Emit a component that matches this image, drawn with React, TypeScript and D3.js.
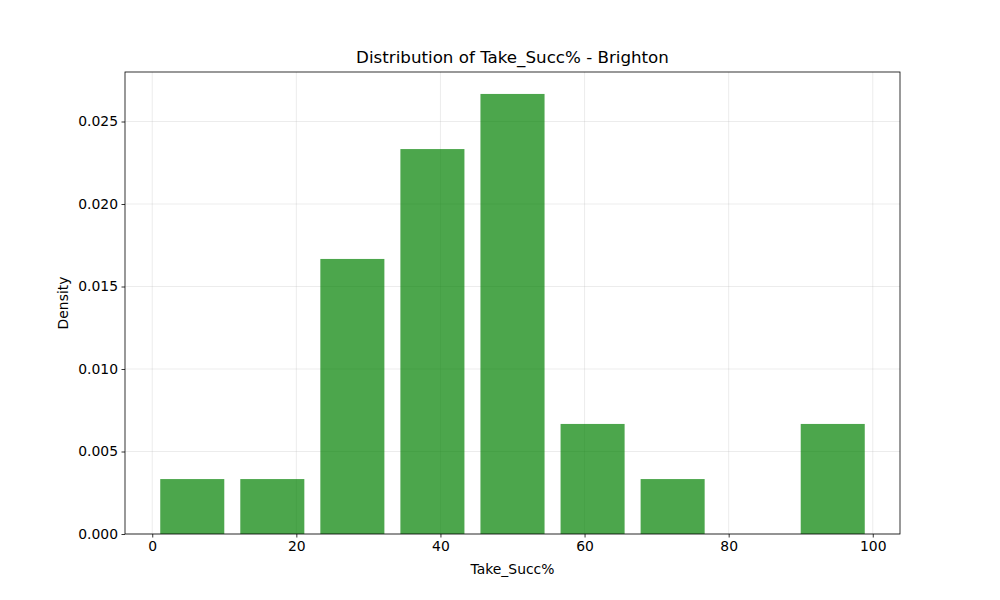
import React, { useEffect, useRef } from 'react';
import * as d3 from 'd3';

const binEdges = [0, 11.11, 22.22, 33.33, 44.44, 55.56, 66.67, 77.78, 88.89, 100];
const densities = [0.00333, 0.00333, 0.01667, 0.02333, 0.02667, 0.00667, 0.00333, 0, 0.00667];
const xTicks = [0, 20, 40, 60, 80, 100];
const yTicks = [0, 0.005, 0.01, 0.015, 0.02, 0.025];

const App: React.FC = () => {
  const ref = useRef<SVGSVGElement | null>(null);

  useEffect(() => {
    if (!ref.current) return;
    const width = 1000;
    const height = 600;
    const m = { left: 125, right: 100, top: 72, bottom: 66 };
    const font = 'DejaVu Sans, sans-serif';

    const svg = d3.select(ref.current).attr('width', width).attr('height', height).html('');
    svg.append('rect').attr('width', width).attr('height', height).attr('fill', '#fff');

    const x = d3.scaleLinear().domain([-3.78, 103.78]).range([m.left, width - m.right]);
    const y = d3.scaleLinear().domain([0, 0.028]).range([height - m.bottom, m.top]);

    const g = svg.append('g');

    // grid
    g.selectAll('.gx').data(xTicks).enter().append('line')
      .attr('x1', (d) => x(d)).attr('x2', (d) => x(d))
      .attr('y1', m.top).attr('y2', height - m.bottom)
      .attr('stroke', '#b0b0b0').attr('stroke-opacity', 0.3).attr('stroke-width', 0.8);
    g.selectAll('.gy').data(yTicks).enter().append('line')
      .attr('x1', m.left).attr('x2', width - m.right)
      .attr('y1', (d) => y(d)).attr('y2', (d) => y(d))
      .attr('stroke', '#b0b0b0').attr('stroke-opacity', 0.3).attr('stroke-width', 0.8);

    // bars
    const bins = densities.map((v, i) => ({ x0: binEdges[i], x1: binEdges[i + 1], v }));
    g.selectAll('.bar').data(bins).enter().append('rect')
      .attr('x', (d) => x(d.x0 + 0.1 * (d.x1 - d.x0)))
      .attr('width', (d) => x(d.x1) - x(d.x0) - 0.2 * (x(d.x1) - x(d.x0)))
      .attr('y', (d) => y(d.v))
      .attr('height', (d) => y(0) - y(d.v))
      .attr('fill', 'green').attr('fill-opacity', 0.7);

    // frame
    g.append('rect')
      .attr('x', m.left).attr('y', m.top)
      .attr('width', width - m.left - m.right).attr('height', height - m.top - m.bottom)
      .attr('fill', 'none').attr('stroke', '#000').attr('stroke-width', 0.8);

    const xAxis = g.append('g').attr('transform', `translate(0,${height - m.bottom})`)
      .call(d3.axisBottom(x).tickValues(xTicks).tickSize(3.5).tickPadding(3.5).tickFormat(d3.format('d')));
    const yAxis = g.append('g').attr('transform', `translate(${m.left},0)`)
      .call(d3.axisLeft(y).tickValues(yTicks).tickSize(3.5).tickPadding(3.5).tickFormat(d3.format('.3f')));
    [xAxis, yAxis].forEach((a) => {
      a.select('.domain').remove();
      a.selectAll('text').attr('font-family', font).attr('font-size', 13.9).attr('fill', '#000');
      a.selectAll('line').attr('stroke', '#000').attr('stroke-width', 0.8);
    });

    svg.append('text').attr('x', (m.left + width - m.right) / 2).attr('y', m.top - 9)
      .attr('text-anchor', 'middle').attr('font-family', font).attr('font-size', 16.7)
      .text('Distribution of Take_Succ% - Brighton');
    svg.append('text').attr('x', (m.left + width - m.right) / 2).attr('y', 574)
      .attr('text-anchor', 'middle').attr('font-family', font).attr('font-size', 13.9)
      .text('Take_Succ%');
    svg.append('text').attr('transform', `translate(68,${(m.top + height - m.bottom) / 2}) rotate(-90)`)
      .attr('text-anchor', 'middle').attr('font-family', font).attr('font-size', 13.9)
      .text('Density');
  }, []);

  return <svg ref={ref} style={{ position: 'absolute', left: 0, top: 0 }}></svg>;
};

export default App;
